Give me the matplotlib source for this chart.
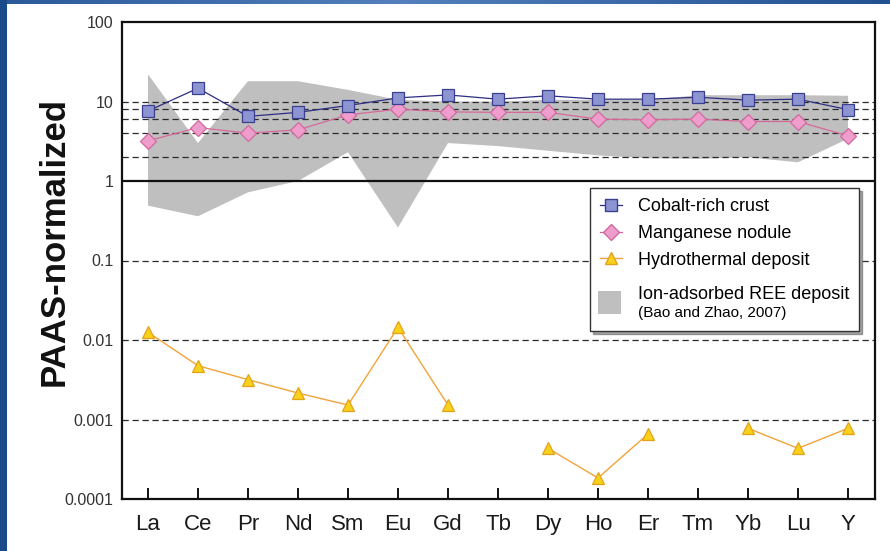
import numpy as np
import matplotlib
matplotlib.use("Agg")
import matplotlib.pyplot as plt
from matplotlib.patches import Patch, Rectangle
from matplotlib.lines import Line2D
from matplotlib.legend_handler import HandlerPatch

plt.rcParams['font.family'] = ['Liberation Sans', 'DejaVu Sans']

elements = ["La", "Ce", "Pr", "Nd", "Sm", "Eu", "Gd", "Tb", "Dy", "Ho",
            "Er", "Tm", "Yb", "Lu", "Y"]

cobalt_crust = [7.6, 14.7, 6.5, 7.3, 8.9, 11.1, 12.1, 10.7, 11.8, 10.7,
                10.7, 11.3, 10.4, 10.7, 7.9]
mn_nodule = [3.2, 4.7, 4.0, 4.4, 6.8, 8.0, 7.4, 7.3, 7.3, 6.0,
             5.9, 6.0, 5.6, 5.6, 3.7]
hydrothermal = [0.0125, 0.00475, 0.00317, 0.00215, 0.00152, 0.0144, 0.00152,
                np.nan, 0.000434, 0.000184, 0.000657, np.nan,
                0.000774, 0.000434, 0.000774]

# Range of ion-adsorbed REE deposits (Bao and Zhao, 2007)
ion_upper = [22.0, 3.0, 18.0, 18.0, 14.0, 10.5, 10.0, 10.0, 10.5, 10.5,
             10.5, 12.0, 12.0, 12.0, 11.8]
ion_lower = [0.49, 0.36, 0.72, 1.0, 2.3, 0.26, 3.0, 2.75, 2.4, 2.1,
             1.93, 1.9, 1.98, 1.72, 3.4]

ref_levels = [10, 8, 6, 4, 2, 0.1, 0.01, 0.001]
y_ticks = [0.0001, 0.001, 0.01, 0.1, 1, 10, 100]
y_ticklabels = ["0.0001", "0.001", "0.01", "0.1", "1", "10", "100"]

W, H = 890, 551
fig = plt.figure(figsize=(W / 100, H / 100), dpi=100)
fig.patch.set_facecolor("white")

# slide frame: dark blue strip on the left, gradient strip on top
frame_blue = "#1b4a8a"
fig.patches.append(Rectangle((0, 0), 7 / W, 1, transform=fig.transFigure,
                             facecolor=frame_blue, edgecolor="none", zorder=0))
top_ax = fig.add_axes([0, 1 - 4 / H, 1, 4 / H])
grad = np.linspace(0, 1, 256)
grad = 1 - np.abs(grad - 0.45) * 1.6
c_dark = np.array([0.11, 0.29, 0.55])
c_light = np.array([0.33, 0.50, 0.74])
img = c_dark[None, :] + (c_light - c_dark)[None, :] * np.clip(grad, 0, 1)[:, None]
top_ax.imshow(img[None, :, :], aspect="auto", extent=(0, 1, 0, 1))
top_ax.set_axis_off()

left, right, top, bottom = 122, 875, 22, 499
ax = fig.add_axes([left / W, 1 - bottom / H, (right - left) / W, (bottom - top) / H])

x = np.arange(len(elements))

ax.fill_between(x, ion_lower, ion_upper, facecolor="#bfbfbf", edgecolor="none",
                zorder=1)

for lvl in ref_levels:
    ax.axhline(lvl, color="#2a2a2a", lw=0.9, linestyle=(0, (5, 3)), zorder=2)
ax.axhline(1, color="#111111", lw=1.6, zorder=3)

ax.plot(x, cobalt_crust, color="#2b2e83", lw=0.9, marker="s", markersize=8,
        markerfacecolor="#8c95d1", markeredgecolor="#3a3f8f", markeredgewidth=0.9,
        zorder=5)
ax.plot(x, mn_nodule, color="#d8689a", lw=0.9, marker="D", markersize=8,
        markerfacecolor="#ef9dcc", markeredgecolor="#cf6aa0", markeredgewidth=0.9,
        zorder=4)
ax.plot(x, hydrothermal, color="#f2a33a", lw=1.0, marker="^", markersize=9,
        markerfacecolor="#f7d11a", markeredgecolor="#e4a21c", markeredgewidth=0.9,
        zorder=4)

ax.set_yscale("log")
ax.set_ylim(0.0001, 100)
ax.set_xlim(-0.52, 14.54)
ax.set_yticks(y_ticks)
ax.set_yticklabels(y_ticklabels)
ax.yaxis.set_minor_locator(matplotlib.ticker.NullLocator())
ax.set_xticks(x)
ax.set_xticklabels(elements)

ax.tick_params(axis="y", length=0, pad=6, labelsize=11.5, labelcolor="#333333")
ax.tick_params(axis="x", direction="in", length=8, width=1.3, pad=11,
               labelsize=16, labelcolor="#1a1a1a")

for sp in ax.spines.values():
    sp.set_linewidth(1.6)
    sp.set_color("#111111")

ax.set_ylabel("PAAS-normalized", fontsize=25, fontweight="bold", color="#111111")
ax.yaxis.set_label_coords(-0.068, 0.54)


def tall_swatch(legend, orig_handle, xdescent, ydescent, width, height, fontsize):
    # grey square centred between the label and the citation line below it
    side = height * 1.85
    cy = -ydescent + height / 2 - 0.94 * fontsize
    return Rectangle((-xdescent + (width - side) / 2 - 1, cy - side / 2),
                     side, side)


handles = [
    Line2D([], [], color="#2b2e83", lw=0.9, marker="s", markersize=8,
           markerfacecolor="#8c95d1", markeredgecolor="#3a3f8f"),
    Line2D([], [], color="#d8689a", lw=0.9, marker="D", markersize=8,
           markerfacecolor="#ef9dcc", markeredgecolor="#cf6aa0"),
    Line2D([], [], color="#f2a33a", lw=1.0, marker="^", markersize=9,
           markerfacecolor="#f7d11a", markeredgecolor="#e4a21c"),
    Patch(facecolor="#bfbfbf", edgecolor="none"),
    Line2D([], [], linestyle="none", marker=None),
]
labels = ["Cobalt-rich crust", "Manganese nodule", "Hydrothermal deposit",
          "Ion-adsorbed REE deposit", "(Bao and Zhao, 2007)"]
leg = ax.legend(handles, labels, loc="upper left", bbox_to_anchor=(0.6215, 0.652),
                borderaxespad=0, fontsize=13, frameon=True, fancybox=False,
                shadow=True, handlelength=1.2, handletextpad=0.9,
                labelspacing=0.55, borderpad=0.55,
                handler_map={Patch: HandlerPatch(patch_func=tall_swatch)})
texts = leg.get_texts()
texts[3].set_position((0, -7))
texts[4].set_fontsize(11)
texts[4].set_position((0, 1))
leg.get_frame().set_edgecolor("#333333")
leg.get_frame().set_linewidth(1.0)
leg.set_zorder(10)

fig.savefig("out.png", dpi=100)
